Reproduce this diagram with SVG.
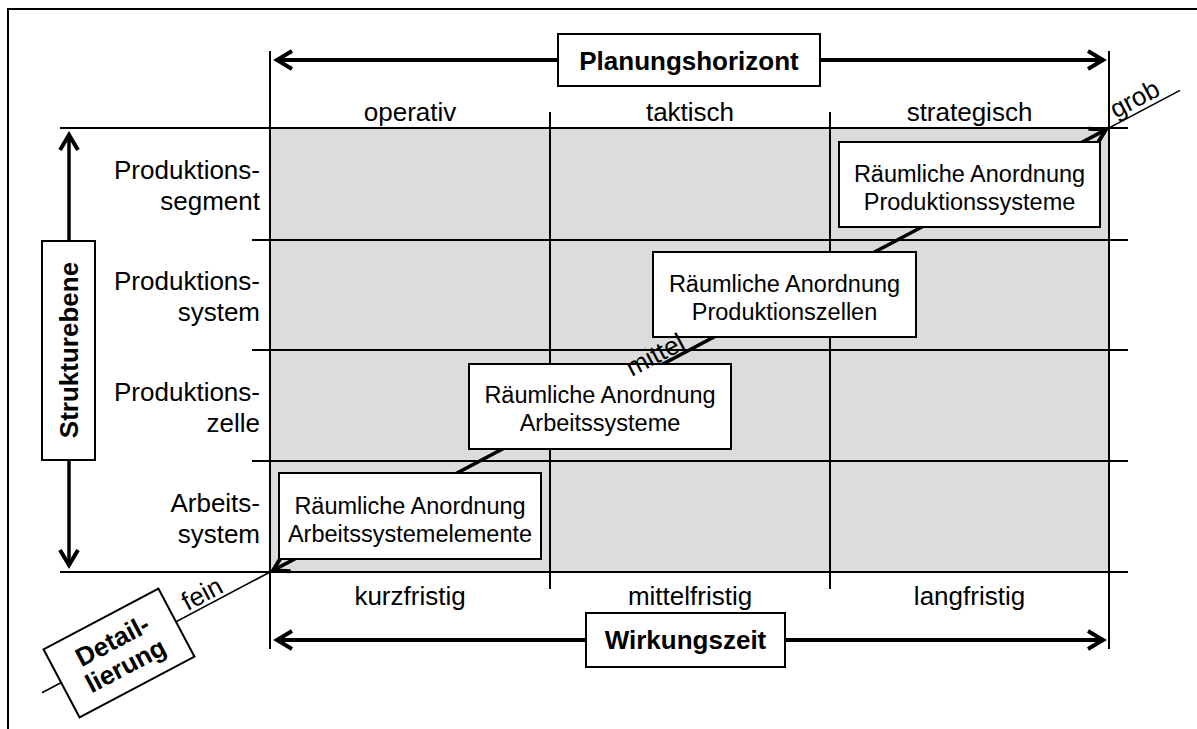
<svg xmlns="http://www.w3.org/2000/svg" width="1197" height="729" viewBox="0 0 1197 729">
  <defs>
    <style>
      text { font-family: "Liberation Sans", Arial, Helvetica, sans-serif; fill: #000; }
      .lbl { font-size: 26px; }
      .bold { font-size: 26px; font-weight: bold; }
      .boxt { font-size: 23.5px; }
      .mid { text-anchor: middle; }
      .end { text-anchor: end; }
      .grid { stroke: #000; stroke-width: 2; fill: none; }
      .node { fill: #fff; stroke: #000; stroke-width: 2; }
      .arrow { stroke: #000; stroke-width: 4; fill: none; marker-start: url(#chev); marker-end: url(#chev); }
    </style>
    <marker id="chev" markerUnits="userSpaceOnUse" viewBox="-20 -12 26 24" refX="0" refY="0"
            markerWidth="26" markerHeight="24" orient="auto-start-reverse" overflow="visible">
      <path d="M-15,-9 L0,0 L-15,9" fill="none" stroke="#000" stroke-width="4"/>
    </marker>
  </defs>

  <rect width="1197" height="729" fill="#fff"/>
  <!-- outer frame -->
  <path d="M8,729 V9 H1197" fill="none" stroke="#000" stroke-width="2"/>

  <!-- matrix background and grid -->
  <g id="matrix">
    <rect x="270" y="128" width="839" height="444" fill="#dcdcdc"/>
    <path class="grid" d="M60,128 H1128 M252,240 H1128 M252,350 H1128 M252,461 H1128 M60,572 H1128"/>
    <path class="grid" d="M270,51 V649 M1109,51 V649 M550,112 V589 M830,112 V589"/>
  </g>

  <!-- connectors -->
  <g id="connectors">
    <line x1="277" y1="60" x2="1103" y2="60" class="arrow"/>
    <line x1="277" y1="640" x2="1103" y2="640" class="arrow"/>
    <line x1="69" y1="135" x2="69" y2="565" class="arrow" style="stroke-width:3.5"/>
    <line x1="42" y1="692.7" x2="1180" y2="90.4" stroke="#000" stroke-width="1.6"/>
    <line x1="273.1" y1="570.4" x2="1105.9" y2="129.6" class="arrow" style="stroke-width:3.5"/>
  </g>

  <!-- axis titles -->
  <g id="planungshorizont">
    <rect class="node" x="558" y="34" width="262" height="52"/>
    <text class="bold mid" x="689" y="69.5">Planungshorizont</text>
  </g>
  <g id="wirkungszeit">
    <rect class="node" x="586" y="613" width="199" height="54"/>
    <text class="bold mid" x="685.5" y="649">Wirkungszeit</text>
  </g>
  <g id="strukturebene">
    <rect class="node" x="42" y="241" width="53" height="219"/>
    <text class="bold mid" transform="translate(78,350) rotate(-90)">Strukturebene</text>
  </g>
  <g id="detaillierung" transform="translate(119,653) rotate(-27.9)">
    <rect class="node" x="-65" y="-38.5" width="130" height="77"/>
    <text class="bold mid" x="0" y="-5">Detail-</text>
    <text class="bold mid" x="0" y="23">lierung</text>
  </g>

  <!-- column labels -->
  <g id="columns">
    <text class="lbl mid" x="410" y="121">operativ</text>
    <text class="lbl mid" x="690" y="121">taktisch</text>
    <text class="lbl mid" x="969.5" y="121">strategisch</text>
    <text class="lbl mid" x="410" y="605">kurzfristig</text>
    <text class="lbl mid" x="690" y="605">mittelfristig</text>
    <text class="lbl mid" x="969.5" y="605">langfristig</text>
  </g>

  <!-- row labels -->
  <g id="rows">
    <text class="lbl end" x="260" y="179">Produktions-</text>
    <text class="lbl end" x="260" y="210">segment</text>
    <text class="lbl end" x="260" y="290">Produktions-</text>
    <text class="lbl end" x="260" y="321">system</text>
    <text class="lbl end" x="260" y="401">Produktions-</text>
    <text class="lbl end" x="260" y="432">zelle</text>
    <text class="lbl end" x="260" y="512">Arbeits-</text>
    <text class="lbl end" x="260" y="543">system</text>
  </g>

  <!-- planning tasks -->
  <g id="task-arbeitssystemelemente">
    <rect class="node" x="279" y="473" width="262" height="86"/>
    <text class="boxt mid" x="410" y="514">Räumliche Anordnung</text>
    <text class="boxt mid" x="410" y="542">Arbeitssystemelemente</text>
  </g>
  <g id="task-arbeitssysteme">
    <rect class="node" x="469" y="364" width="262" height="85"/>
    <text class="boxt mid" x="600" y="403">Räumliche Anordnung</text>
    <text class="boxt mid" x="600" y="431">Arbeitssysteme</text>
  </g>
  <g id="task-produktionszellen">
    <rect class="node" x="653" y="252" width="263" height="85"/>
    <text class="boxt mid" x="784.5" y="292">Räumliche Anordnung</text>
    <text class="boxt mid" x="784.5" y="320">Produktionszellen</text>
  </g>
  <g id="task-produktionssysteme">
    <rect class="node" x="839" y="142" width="261" height="85"/>
    <text class="boxt mid" x="969.5" y="182">Räumliche Anordnung</text>
    <text class="boxt mid" x="969.5" y="210">Produktionssysteme</text>
  </g>

  <!-- scale labels along the diagonal -->
  <g id="scale">
    <text class="lbl mid" transform="translate(1141,111) rotate(-27.9)" y="-5">grob</text>
    <text class="lbl mid" transform="translate(661,366) rotate(-27.9)" y="-4">mittel</text>
    <text class="lbl mid" transform="translate(208,605) rotate(-27.9)" y="-4">fein</text>
  </g>
</svg>
